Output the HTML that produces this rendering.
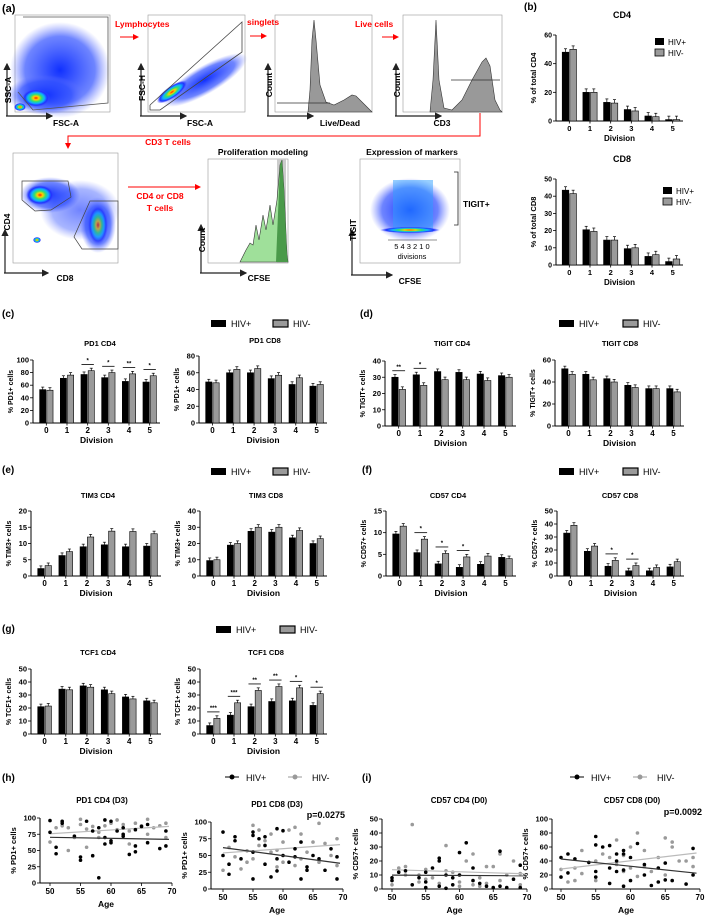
<!DOCTYPE html>
<html><head><meta charset="utf-8"><style>
body{margin:0;background:#fff}
svg{display:block;font-family:"Liberation Sans",Arial,sans-serif}
</style></head><body>
<svg id="fig" width="709" height="919" viewBox="0 0 709 919" xmlns="http://www.w3.org/2000/svg">
<defs>
<radialGradient id="gBlob" cx="50%" cy="50%" r="50%"><stop offset="0" stop-color="#ff2000"/><stop offset="0.2" stop-color="#ffd000"/><stop offset="0.4" stop-color="#30e070"/><stop offset="0.6" stop-color="#10b0ff"/><stop offset="0.8" stop-color="#2030ff"/><stop offset="1" stop-color="#4050ff" stop-opacity="0"/></radialGradient>
<radialGradient id="bBlob" cx="50%" cy="50%" r="50%"><stop offset="0" stop-color="#1030ff" stop-opacity="1"/><stop offset="0.7" stop-color="#3050ff" stop-opacity="0.7"/><stop offset="1" stop-color="#6070ff" stop-opacity="0"/></radialGradient>
<marker id="arr" markerWidth="6" markerHeight="6" refX="5" refY="3" orient="auto"><path d="M0,0 L6,3 L0,6 z" fill="#222"/></marker>
<marker id="rarr" markerWidth="6" markerHeight="6" refX="5" refY="3" orient="auto"><path d="M0,0 L6,3 L0,6 z" fill="#f00"/></marker>
</defs>

<!-- Panel a -->
<g font-weight="bold">
<text x="2" y="12" font-size="11">(a)</text>
<rect x="15" y="15" width="95" height="97" fill="#fff" stroke="#999" stroke-width="0.6"/>
<ellipse cx="60" cy="70" rx="50" ry="48" fill="url(#bBlob)"/>
<ellipse cx="45" cy="95" rx="38" ry="20" fill="url(#bBlob)"/>
<ellipse cx="36" cy="98" rx="14" ry="9" fill="url(#gBlob)"/>
<ellipse cx="20" cy="107" rx="6" ry="4" fill="url(#gBlob)"/>
<polyline points="23,17 108,17 108,103 33,110 18,92" fill="none" stroke="#555" stroke-width="0.8"/>
<line x1="7" y1="116" x2="7" y2="64" stroke="#222" stroke-width="1.2" marker-end="url(#arr)"/>
<line x1="6" y1="116" x2="52" y2="116" stroke="#222" stroke-width="1.2" marker-end="url(#arr)"/>
<text x="11" y="90" font-size="8.5" transform="rotate(-90 11 90)" text-anchor="middle">SSC-A</text>
<text x="66" y="126" font-size="8.5" text-anchor="middle">FSC-A</text>
<rect x="148" y="15" width="97" height="97" fill="#fff" stroke="#999" stroke-width="0.6"/>
<ellipse cx="205" cy="80" rx="48" ry="14" transform="rotate(-30 205 80)" fill="url(#bBlob)"/>
<ellipse cx="172" cy="92" rx="18" ry="6" transform="rotate(-35 172 92)" fill="url(#gBlob)"/>
<polyline points="150,105 242,22 242,52 160,110 150,110 150,105" fill="none" stroke="#444" stroke-width="0.8"/>
<line x1="141" y1="116" x2="141" y2="64" stroke="#222" stroke-width="1.2" marker-end="url(#arr)"/>
<line x1="140" y1="116" x2="186" y2="116" stroke="#222" stroke-width="1.2" marker-end="url(#arr)"/>
<text x="145" y="88" font-size="8.5" transform="rotate(-90 145 88)" text-anchor="middle">FSC-H</text>
<text x="200" y="126" font-size="8.5" text-anchor="middle">FSC-A</text>
<rect x="275" y="15" width="97" height="97" fill="#fff" stroke="#999" stroke-width="0.6"/>
<path d="M308,112 L310,90 312,40 314,20 316,40 320,85 326,102 334,105 344,100 352,95 356,96 362,102 370,110 372,112 Z" fill="#999" stroke="#333" stroke-width="0.6"/>
<line x1="277" y1="103" x2="330" y2="103" stroke="#333" stroke-width="0.8"/>
<line x1="268" y1="116" x2="268" y2="64" stroke="#222" stroke-width="1.2" marker-end="url(#arr)"/>
<line x1="267" y1="116" x2="313" y2="116" stroke="#222" stroke-width="1.2" marker-end="url(#arr)"/>
<text x="272" y="85" font-size="8.5" transform="rotate(-90 272 85)" text-anchor="middle">Count</text>
<text x="340" y="126" font-size="8.5" text-anchor="middle">Live/Dead</text>
<rect x="403" y="15" width="99" height="97" fill="#fff" stroke="#999" stroke-width="0.6"/>
<path d="M430,112 L433,80 436,20 439,80 444,108 452,110 462,100 472,80 482,62 486,58 490,66 495,100 500,110 502,112 Z" fill="#999" stroke="#333" stroke-width="0.6"/>
<line x1="451" y1="80" x2="500" y2="80" stroke="#333" stroke-width="0.8"/>
<line x1="396" y1="116" x2="396" y2="64" stroke="#222" stroke-width="1.2" marker-end="url(#arr)"/>
<line x1="395" y1="116" x2="441" y2="116" stroke="#222" stroke-width="1.2" marker-end="url(#arr)"/>
<text x="400" y="85" font-size="8.5" transform="rotate(-90 400 85)" text-anchor="middle">Count</text>
<text x="442" y="126" font-size="8.5" text-anchor="middle">CD3</text>
<text x="115" y="27" font-size="8.5" fill="#f00">Lymphocytes</text>
<line x1="120" y1="37" x2="138" y2="37" stroke="#f00" stroke-width="1" marker-end="url(#rarr)"/>
<text x="247" y="25" font-size="8.5" fill="#f00">singlets</text>
<line x1="250" y1="36" x2="266" y2="36" stroke="#f00" stroke-width="1" marker-end="url(#rarr)"/>
<text x="355" y="27" font-size="8.5" fill="#f00">Live cells</text>
<line x1="382" y1="37" x2="398" y2="37" stroke="#f00" stroke-width="1" marker-end="url(#rarr)"/>
<polyline points="480,113 480,136 68,136 68,148" fill="none" stroke="#f00" stroke-width="1" marker-end="url(#rarr)"/>
<text x="168" y="145" font-size="8.5" fill="#f00" text-anchor="middle">CD3 T cells</text>
<rect x="13" y="153" width="105" height="110" fill="#fff" stroke="#999" stroke-width="0.6"/>
<ellipse cx="50" cy="195" rx="30" ry="18" fill="url(#bBlob)"/>
<ellipse cx="80" cy="210" rx="40" ry="30" fill="url(#bBlob)" opacity="0.6"/>
<ellipse cx="98" cy="225" rx="18" ry="28" fill="url(#bBlob)"/>
<ellipse cx="40" cy="195" rx="14" ry="10" fill="url(#gBlob)"/>
<ellipse cx="98" cy="225" rx="10" ry="20" fill="url(#gBlob)" opacity="0.7"/>
<ellipse cx="37" cy="240" rx="4" ry="3" fill="url(#gBlob)"/>
<polygon points="22,181 68,181 71,197 51,210 35,211 22,200" fill="none" stroke="#444" stroke-width="0.7"/>
<polygon points="90,201 118,201 118,249 82,249 74,237" fill="none" stroke="#444" stroke-width="0.7"/>
<line x1="5" y1="273" x2="5" y2="230" stroke="#222" stroke-width="1.2" marker-end="url(#arr)"/>
<line x1="4" y1="273" x2="48" y2="273" stroke="#222" stroke-width="1.2" marker-end="url(#arr)"/>
<text x="10" y="222" font-size="8.5" transform="rotate(-90 10 222)" text-anchor="middle">CD4</text>
<text x="65" y="281" font-size="8.5" text-anchor="middle">CD8</text>
<line x1="128" y1="187" x2="200" y2="187" stroke="#f00" stroke-width="1" marker-end="url(#rarr)"/>
<text x="160" y="199" font-size="8.5" fill="#f00" text-anchor="middle">CD4 or CD8</text>
<text x="160" y="211" font-size="8.5" fill="#f00" text-anchor="middle">T cells</text>
<text x="263" y="155" font-size="8.5" text-anchor="middle">Proliferation modeling</text>
<rect x="208" y="159" width="80" height="104" fill="#fff" stroke="#999" stroke-width="0.6"/>
<rect x="277" y="159" width="9" height="104" fill="#ccc"/>
<path d="M240,262 L246,250 250,243 253,245 256,225 259,240 263,215 266,230 270,205 273,225 277,200 280,165 282,160 284,190 287,255 288,262 Z" fill="#9fe09a" stroke="#333" stroke-width="0.6"/>
<path d="M276,262 L280,165 282,160 284,190 287,255 288,262Z" fill="#4a9a4a"/>
<line x1="201" y1="273" x2="201" y2="225" stroke="#222" stroke-width="1.2" marker-end="url(#arr)"/>
<line x1="200" y1="273" x2="246" y2="273" stroke="#222" stroke-width="1.2" marker-end="url(#arr)"/>
<text x="205" y="240" font-size="8.5" transform="rotate(-90 205 240)" text-anchor="middle">Count</text>
<text x="259" y="281" font-size="8.5" text-anchor="middle">CFSE</text>
<text x="412" y="155" font-size="8.5" text-anchor="middle">Expression of markers</text>
<rect x="360" y="159" width="100" height="104" fill="#fff" stroke="#999" stroke-width="0.6"/>
<ellipse cx="410" cy="210" rx="40" ry="32" fill="url(#bBlob)"/>
<rect x="393" y="180" width="40" height="52" fill="#30a0ff" opacity="0.5"/>
<ellipse cx="410" cy="230" rx="30" ry="3" fill="url(#gBlob)"/>
<line x1="388" y1="240" x2="437" y2="240" stroke="#222" stroke-width="0.6"/>
<text x="412" y="249" font-size="7.5" font-weight="normal" text-anchor="middle">5 4 3 2 1 0</text>
<text x="412" y="259" font-size="7.5" font-weight="normal" text-anchor="middle">divisions</text>
<polyline points="454,172 458,172 458,225 454,225" fill="none" stroke="#222" stroke-width="0.8"/>
<text x="463" y="207" font-size="8.5">TIGIT+</text>
<line x1="352" y1="275" x2="352" y2="230" stroke="#222" stroke-width="1.2" marker-end="url(#arr)"/>
<line x1="351" y1="275" x2="392" y2="275" stroke="#222" stroke-width="1.2" marker-end="url(#arr)"/>
<text x="356" y="230" font-size="8.5" transform="rotate(-90 356 230)" text-anchor="middle">TIGIT</text>
<text x="410" y="284" font-size="8.5" text-anchor="middle">CFSE</text>
</g>
<g id="charts"></g>
</svg>
<script>
// ---- bar data ----
const divisions = ["0","1","2","3","4","5"];
const cd4TotPos = [48,20,13,8,3.5,1];
const cd4TotNeg = [50,20,12.5,7,3,1];
const cd8TotPos = [43.5,20.5,14.5,9.5,5,2];
const cd8TotNeg = [41.5,19.5,14.5,10,6,3.5];
const pd1Cd4Pos = [53,71,77,72,66,65];
const pd1Cd4Neg = [52,76,83,80,78,75];
const pd1Cd8Pos = [49,60,60,53,46,44];
const pd1Cd8Neg = [48,64,65,57,54,46];
const tigitCd4Pos = [30,31.5,33.5,33,32,31];
const tigitCd4Neg = [22.5,25,28.5,28.5,28,30];
const tigitCd8Pos = [52,47,43,37,34,34];
const tigitCd8Neg = [47,42,40,35,34,31];
const tim3Cd4Pos = [2.3,6.3,9,9.6,9,9.2];
const tim3Cd4Neg = [3.2,7.5,12,13.8,13.7,13];
const tim3Cd8Pos = [9.5,19,27.5,27,23.5,20];
const tim3Cd8Neg = [10,20,30,30,28,23];
const cd57Cd4Pos = [9.7,5.4,2.8,2,2.7,4.3];
const cd57Cd4Neg = [11.5,8.5,5.2,4.4,4.6,4];
const cd57Cd8Pos = [33,19,7.5,4,4,7];
const cd57Cd8Neg = [39,23,12,8,6.5,11];
const tcf1Cd4Pos = [21,34.5,37,34,28.5,25.5];
const tcf1Cd4Neg = [21.5,34,36,31,27,24];
const tcf1Cd8Pos = [6.5,14.5,21,25,25.5,22];
const tcf1Cd8Neg = [12,24,33.5,36.5,35.5,31];
const pd1Cd4Sig = ["","","*","*","**","*"];
const tigitCd4Sig = ["**","*","","","",""];
const cd57Cd4Sig = ["","*","*","*","",""];
const cd57Cd8Sig = ["","","*","*","",""];
const tcf1Cd8Sig = ["***","***","**","**","*","*"];
const noSig = ["","","","","",""];
// ---- scatter data (age, value) ----
const pd1Cd4AgePos = [50,50,51,51,52,52,55,55,56,57,57,58,58,59,59,59,60,60,60,62,62,62,63,64,64,64,65,66,66,68,69,69,54,61];
const pd1Cd4ValPos = [96,78,55,45,92,95,40,35,95,80,42,8,85,70,60,97,65,62,95,85,75,72,44,57,48,82,87,90,62,53,80,57,72,80];
const pd1Cd4AgeNeg = [50,51,52,53,54,55,55,56,56,57,58,59,60,61,61,62,63,63,64,65,66,66,67,68,69,69,53,58];
const pd1Cd4ValNeg = [63,85,88,50,70,98,90,83,55,87,70,88,92,97,82,90,80,60,92,88,98,75,85,88,92,70,85,78];
const pd1Cd8AgePos = [50,50,51,51,52,52,53,55,55,55,55,56,57,57,57,58,59,59,59,60,60,61,62,62,63,63,64,64,65,66,67,68,69,69];
const pd1Cd8ValPos = [85,50,37,22,72,78,45,85,80,55,15,75,78,37,65,18,90,45,27,87,50,40,60,48,15,70,28,33,50,45,28,60,48,15];
const pd1Cd8AgeNeg = [50,51,52,53,54,55,55,56,56,57,58,58,59,59,60,60,61,62,62,63,63,64,65,66,66,67,68,69,69,54];
const pd1Cd8ValNeg = [28,62,48,30,57,95,45,88,65,72,55,82,58,33,40,70,88,92,35,82,45,55,70,98,40,68,50,75,35,40];
const cd57Cd4AgePos = [50,50,51,52,53,55,55,55,56,57,57,57,58,59,59,60,60,61,62,62,63,64,65,66,66,67,68,69,69,54,58];
const cd57Cd4ValPos = [8,6,12,13,3,12,5,1,15,22,20,2,10,8,3,26,10,33,15,6,4,2,1,27,2,1,7,17,1,8,0.5];
const cd57Cd4AgeNeg = [50,51,52,52,53,54,55,55,56,57,58,58,59,60,60,61,62,62,63,63,64,65,66,66,67,68,69,69,54,64];
const cd57Cd4ValNeg = [3,15,10,16,46,10,14,7,8,4,31,13,12,5,2,20,25,3,8,2,16,16,25,6,10,20,11,3,5,4];
const cd57Cd8AgePos = [50,50,51,51,52,54,55,55,55,55,56,57,57,57,58,58,59,59,59,59,60,60,61,62,62,63,64,64,65,65,66,68,69,69,58];
const cd57Cd8ValPos = [45,17,50,23,43,38,75,63,25,17,60,62,30,8,40,25,55,50,27,4,45,12,65,35,20,5,30,10,37,13,12,7,58,20,50];
const cd57Cd8AgeNeg = [50,51,52,52,53,55,55,56,57,58,58,59,59,60,60,61,61,62,62,63,64,65,65,66,66,67,68,69,69,53];
const cd57Cd8ValNeg = [28,10,30,12,55,40,12,50,45,70,35,48,25,30,60,80,18,55,32,25,45,73,20,67,60,40,40,32,45,22];
const scatterXTicks = [50,55,60,65,70];

const NS = "http://www.w3.org/2000/svg";
const root = document.getElementById('charts');
const BLACK = "#000", GRAY = "#9a9a9a";
function el(tag, attrs, parent, text){
  const e = document.createElementNS(NS, tag);
  for (const k in attrs) e.setAttribute(k, attrs[k]);
  if (text !== undefined) e.textContent = text;
  (parent || root).appendChild(e);
  return e;
}
function txt(parent, x, y, s, size, anchor, extra){
  return el('text', Object.assign({x:x, y:y, 'font-size':size, 'text-anchor':anchor||'middle', 'font-weight':'bold'}, extra||{}), parent, s);
}

function barChart(name, ax, axEnd, yTop, yBot, maxV, step, pos, neg, sig, title, titleX, titleY, ylabel, opts){
  opts = opts || {};
  const g = el('g', {}, root);
  
  
  const yS = v => yBot - (v / maxV) * (yBot - yTop);
  const n = divisions.length;
  const gw = (axEnd - ax - 3) / n;
  const bw = gw * (opts.bw || 0.3);
  const fs = opts.fs || 7.5;
  el('line', {x1:ax, y1:yTop, x2:ax, y2:yBot, stroke:'#000', 'stroke-width':1}, g);
  el('line', {x1:ax, y1:yBot, x2:axEnd, y2:yBot, stroke:'#000', 'stroke-width':1}, g);
  for (let v = 0; v <= maxV + 1e-9; v += step){
    const y = yS(v);
    el('line', {x1:ax-3, y1:y, x2:ax, y2:y, stroke:'#000', 'stroke-width':0.8}, g);
    txt(g, ax-4, y+2.5, String(v), fs, 'end');
  }
  const eh = (yBot-yTop)*(opts.err||0.04);
  for (let i = 0; i < n; i++){
    const cx = ax + 3 + gw * (i + 0.5);
    const groups = [[pos[i], BLACK, cx - bw - 0.5], [neg[i], GRAY, cx + 0.5]];
    groups.forEach((gr, j) => {
      const v = gr[0];
      const y = yS(v);
      el('line', {x1:gr[2]+bw/2, y1:y, x2:gr[2]+bw/2, y2:y-eh, stroke:'#000','stroke-width':0.7}, g);
      el('line', {x1:gr[2]+bw/2-1.5, y1:y-eh, x2:gr[2]+bw/2+1.5, y2:y-eh, stroke:'#000','stroke-width':0.7}, g);
      const r = el('rect', {x:gr[2], y:y, width:bw, height:yBot - y, fill:gr[1], stroke:'#000', 'stroke-width':0.6}, g);
      
      
    });
    el('line', {x1:cx, y1:yBot, x2:cx, y2:yBot+2.5, stroke:'#000','stroke-width':0.8}, g);
    txt(g, cx, yBot + 10, divisions[i], fs + 0.5);
    if (sig[i]){
      const top = yS(Math.max(pos[i], neg[i])) - (yBot-yTop)*0.1;
      el('line', {x1:cx - bw, y1:top, x2:cx + bw, y2:top, stroke:'#000','stroke-width':0.8}, g);
      txt(g, cx, top - 2, sig[i], 6);
    }
  }
  txt(g, (ax + axEnd) / 2, yBot + 20, 'Division', fs + 1);
  txt(g, titleX, titleY, title, opts.tfs || 7.5);
  const lx = ax - (opts.ylOff || 20), ly = (yTop + yBot) / 2;
  txt(g, lx, ly, ylabel, opts.yfs || 7, 'middle', {transform:'rotate(-90 ' + lx + ' ' + ly + ')'});
}

function legendBar(name, x, y, sep){
  const g = el('g', {}, root);
  
  
  el('rect', {x:x, y:y-6, width:15, height:7, fill:'#000'}, g);
  el('text', {x:x+20, y:y+1, 'font-size':9}, g, 'HIV+');
  el('rect', {x:x+sep, y:y-6, width:15, height:7, fill:GRAY, stroke:'#000', 'stroke-width':1.2}, g);
  el('text', {x:x+sep+20, y:y+1, 'font-size':9}, g, 'HIV-');
}
function legendSmall(name, x, y, dy){
  const g = el('g', {}, root);
  
  
  el('rect', {x:x, y:y-6, width:9, height:7, fill:'#000'}, g);
  el('text', {x:x+13, y:y+1, 'font-size':8}, g, 'HIV+');
  el('rect', {x:x, y:y-6+dy, width:9, height:7, fill:GRAY, stroke:'#000','stroke-width':0.8}, g);
  el('text', {x:x+13, y:y+1+dy, 'font-size':8}, g, 'HIV-');
}
function legendDot(name, x, y){
  const g = el('g', {}, root);
  
  
  el('line', {x1:x-7, y1:y-3, x2:x+7, y2:y-3, stroke:'#000','stroke-width':1}, g);
  el('circle', {cx:x, cy:y-3, r:2.5, fill:'#000'}, g);
  el('text', {x:x+14, y:y+1, 'font-size':9}, g, 'HIV+');
  el('line', {x1:x+56, y1:y-3, x2:x+70, y2:y-3, stroke:GRAY,'stroke-width':1}, g);
  el('circle', {cx:x+63, cy:y-3, r:2.5, fill:GRAY}, g);
  el('text', {x:x+80, y:y+1, 'font-size':9}, g, 'HIV-');
}
function panelLabel(s, x, y){
  const t = el('text', {x:x, y:y, 'font-size':10, 'font-weight':'bold'}, root, s);
  
  
}
function fit(xs, ys){
  const n = xs.length; let sx=0, sy=0, sxx=0, sxy=0;
  for (let i=0;i<n;i++){sx+=xs[i];sy+=ys[i];sxx+=xs[i]*xs[i];sxy+=xs[i]*ys[i];}
  const b = (n*sxy - sx*sy)/(n*sxx - sx*sx); const a = (sy - b*sx)/n;
  return [a,b];
}
function scatter(name, ax, x50, x70, yTop, yBot, maxV, step, agP, vaP, agN, vaN, title, tX, tY, ylabel, pText){
  const g = el('g', {}, root);
  
  
  const xS = a => x50 + (a - 50) / 20 * (x70 - x50);
  const yS = v => yBot - v / maxV * (yBot - yTop);
  el('line', {x1:ax, y1:yTop, x2:ax, y2:yBot, stroke:'#000','stroke-width':1}, g);
  el('line', {x1:ax, y1:yBot, x2:x70, y2:yBot, stroke:'#000','stroke-width':1}, g);
  for (let v = 0; v <= maxV + 1e-9; v += step){
    el('line', {x1:ax-3, y1:yS(v), x2:ax, y2:yS(v), stroke:'#000','stroke-width':0.8}, g);
    txt(g, ax-4, yS(v)+2.5, String(v), 7.5, 'end');
  }
  scatterXTicks.forEach(t => {
    el('line', {x1:xS(t), y1:yBot, x2:xS(t), y2:yBot+3, stroke:'#000','stroke-width':0.8}, g);
    txt(g, xS(t), yBot + 11, String(t), 8);
  });
  [[agN, vaN, GRAY, 'hiv-neg'], [agP, vaP, BLACK, 'hiv-pos']].forEach(s => {
    s[0].forEach((a, i) => {
      const c = el('circle', {cx:xS(a), cy:yS(s[1][i]), r:1.8, fill:s[2]}, g);
      
      
    });
    const f = fit(s[0], s[1]);
    const ln = el('line', {x1:xS(50), y1:yS(f[0]+f[1]*50), x2:xS(69.5), y2:yS(f[0]+f[1]*69.5), stroke: s[2]===BLACK?'#333':'#bbb', 'stroke-width':1.2}, g);
    
    
  });
  txt(g, (ax + x70)/2, yBot + 24, 'Age', 8.5);
  txt(g, tX, tY, title, 8);
  if (pText) txt(g, x70 + 2, yTop - 4, pText, 9, 'end');
  const lx = ax - 24, ly = (yTop + yBot)/2;
  txt(g, lx, ly, ylabel, 7.5, 'middle', {transform:'rotate(-90 '+lx+' '+ly+')'});
}

panelLabel('(b)', 524, 10);
barChart('cd4-division-chart', 556, 683, 35, 121, 60, 20, cd4TotPos, cd4TotNeg, noSig, 'CD4', 622, 18, '% of total CD4', {bw:0.32, fs:7, tfs:9, yfs:7.5, err:0.04});
legendSmall('cd4-legend', 655, 44, 11);
barChart('cd8-division-chart', 556, 683, 179, 265, 50, 10, cd8TotPos, cd8TotNeg, noSig, 'CD8', 622, 162, '% of total CD8', {bw:0.32, fs:7, tfs:9, yfs:7.5, err:0.04});
legendSmall('cd8-legend', 663, 193, 11);

panelLabel('(c)', 2, 317); legendBar('c-legend', 211, 326, 62);
panelLabel('(d)', 360, 317); legendBar('d-legend', 559, 326, 64);
barChart('pd1-cd4-chart', 33, 160, 360, 423, 100, 20, pd1Cd4Pos, pd1Cd4Neg, pd1Cd4Sig, 'PD1 CD4', 100, 346, '% PD1+ cells');
barChart('pd1-cd8-chart', 199, 327, 356, 423, 80, 20, pd1Cd8Pos, pd1Cd8Neg, noSig, 'PD1 CD8', 265, 343, '% PD1+ cells');
barChart('tigit-cd4-chart', 385, 516, 361, 426, 40, 10, tigitCd4Pos, tigitCd4Neg, tigitCd4Sig, 'TIGIT CD4', 452, 346, '% TIGIT+ cells');
barChart('tigit-cd8-chart', 555, 684, 360, 426, 60, 20, tigitCd8Pos, tigitCd8Neg, noSig, 'TIGIT CD8', 620, 346, '% TIGIT+ cells');

panelLabel('(e)', 2, 473); legendBar('e-legend', 211, 474, 62);
panelLabel('(f)', 362, 473); legendBar('f-legend', 559, 474, 64);
barChart('tim3-cd4-chart', 31, 161, 511, 576, 20, 5, tim3Cd4Pos, tim3Cd4Neg, noSig, 'TIM3 CD4', 98, 498, '% TIM3+ cells');
barChart('tim3-cd8-chart', 200, 327, 511, 576, 40, 10, tim3Cd8Pos, tim3Cd8Neg, noSig, 'TIM3 CD8', 266, 498, '% TIM3+ cells');
barChart('cd57-cd4-chart', 386, 516, 511, 576, 15, 5, cd57Cd4Pos, cd57Cd4Neg, cd57Cd4Sig, 'CD57 CD4', 448, 498, '% CD57+ cells');
barChart('cd57-cd8-chart', 557, 684, 511, 576, 50, 10, cd57Cd8Pos, cd57Cd8Neg, cd57Cd8Sig, 'CD57 CD8', 620, 498, '% CD57+ cells');

panelLabel('(g)', 2, 632); legendBar('g-legend', 216, 632, 64);
barChart('tcf1-cd4-chart', 31, 161, 669, 734, 50, 10, tcf1Cd4Pos, tcf1Cd4Neg, noSig, 'TCF1 CD4', 98, 655, '% TCF1+ cells');
barChart('tcf1-cd8-chart', 200, 327, 669, 734, 50, 10, tcf1Cd8Pos, tcf1Cd8Neg, tcf1Cd8Sig, 'TCF1 CD8', 266, 655, '% TCF1+ cells');

panelLabel('(h)', 2, 781); legendDot('h-legend', 232, 780);
panelLabel('(i)', 362, 781); legendDot('i-legend', 577, 780);
scatter('pd1-cd4-age-scatter', 40, 50, 172, 818, 883, 100, 25, pd1Cd4AgePos, pd1Cd4ValPos, pd1Cd4AgeNeg, pd1Cd4ValNeg, 'PD1 CD4 (D3)', 102, 803, '% PD1+ cells', '');
scatter('pd1-cd8-age-scatter', 211, 223, 343, 822, 889, 100, 25, pd1Cd8AgePos, pd1Cd8ValPos, pd1Cd8AgeNeg, pd1Cd8ValNeg, 'PD1 CD8 (D3)', 277, 807, '% PD1+ cells', 'p=0.0275');
scatter('cd57-cd4-age-scatter', 382, 392, 527, 819, 889, 50, 10, cd57Cd4AgePos, cd57Cd4ValPos, cd57Cd4AgeNeg, cd57Cd4ValNeg, 'CD57 CD4 (D0)', 459, 803, '% CD57+ cells', '');
scatter('cd57-cd8-age-scatter', 552, 561, 700, 819, 889, 100, 20, cd57Cd8AgePos, cd57Cd8ValPos, cd57Cd8AgeNeg, cd57Cd8ValNeg, 'CD57 CD8 (D0)', 632, 803, '% CD57+ cells', 'p=0.0092');
</script>
</body></html>
